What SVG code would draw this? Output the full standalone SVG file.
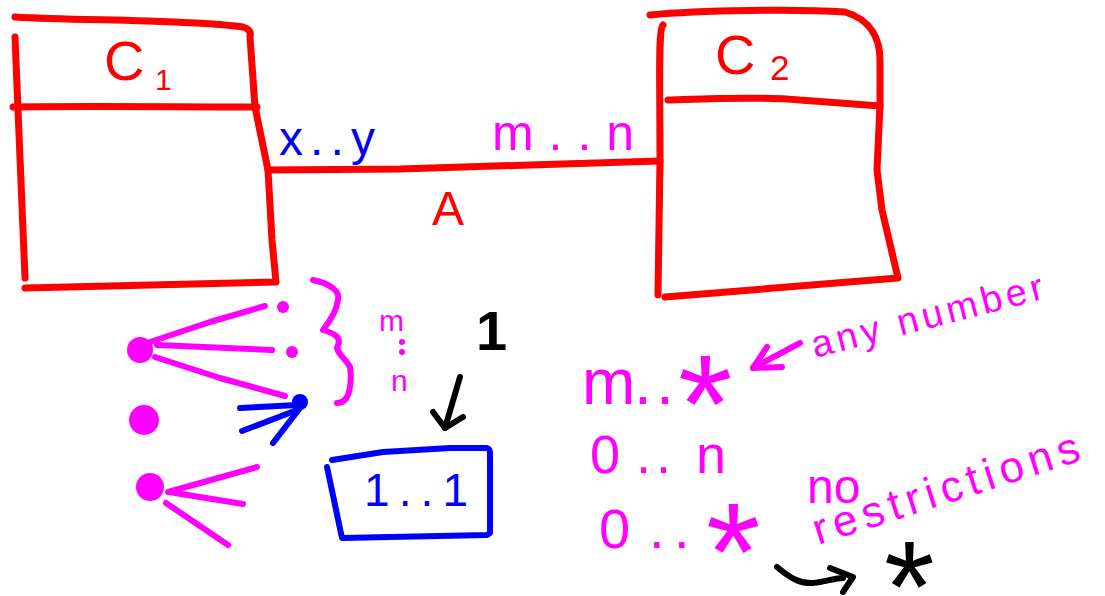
<svg xmlns="http://www.w3.org/2000/svg" width="1105" height="596" viewBox="0 0 1105 596">
<style>
.s{fill:none;stroke-linecap:round;stroke-linejoin:round}
.r{stroke:#ff0000;stroke-width:7}
.m{stroke:#ff00ff;stroke-width:6}
.b{stroke:#0000ff;stroke-width:6}
.k{stroke:#000000;stroke-width:6}
text{font-family:"Liberation Sans",Arial,sans-serif}
.tr{fill:#ff0000}
.tm{fill:#ff00ff}
.tb{fill:#0000ff}
.tk{fill:#000000}
</style>
<rect width="1105" height="596" fill="#ffffff"/>
<g id="C1">
<path class="s r" d="M15,17 C80,21 180,19 243,27 C250,29 251,33 250,37 L255,107 L268,170 L272,240 L276,282 L25,288"/>
<path class="s r" d="M15,37 L18,110 L25,278"/>
<path class="s r" d="M13,107 C80,106 180,107 257,107"/>
<text class="tr" x="104" y="80" font-size="56">C</text>
<text class="tr" x="155" y="90" font-size="30">1</text>
</g>
<g id="C2">
<path class="s r" d="M650,15 C700,10 800,9 845,12 C872,20 880,40 880,60 L880,105 L877,170 L882,210 L898,278 L665,297"/>
<path class="s r" d="M663,25 C658,30 660,80 660,160 L658,295"/>
<path class="s r" d="M668,100 C700,99 760,96 800,100 L880,106"/>
<text class="tr" x="715" y="74" font-size="56">C</text>
<text class="tr" x="770" y="80" font-size="35">2</text>
</g>
<g id="connectors">
<path class="s r" d="M268,170 L400,169 L530,165 L660,161"/>
<text class="tb" x="279" y="155" font-size="48" textLength="96" lengthAdjust="spacing">x..y</text>
<text class="tm" x="492" y="150" font-size="50" textLength="142" lengthAdjust="spacing">m..n</text>
<text class="tr" x="432" y="225" font-size="48">A</text>
</g>
<g id="fan">
<circle cx="140" cy="350" r="13" fill="#ff00ff"/>
<circle cx="144" cy="420" r="15" fill="#ff00ff"/>
<circle cx="150" cy="487" r="14" fill="#ff00ff"/>
<path class="s m" d="M150,342 L210,322 L265,306"/>
<path class="s m" d="M157,345 L272,350"/>
<path class="s m" d="M155,357 L220,378 L285,396"/>
<circle cx="283" cy="307" r="6" fill="#ff00ff"/>
<circle cx="292" cy="352" r="6" fill="#ff00ff"/>
<circle cx="300" cy="402" r="8" fill="#0000ff"/>
<path class="s b" d="M240,408 L297,405"/>
<path class="s b" d="M242,431 L297,410"/>
<path class="s b" d="M273,443 L300,408"/>
<path class="s m" d="M168,492 L257,467"/>
<path class="s m" d="M169,492 L243,504"/>
<path class="s m" d="M166,503 L228,545"/>
<path class="s m" d="M313,280 C332,284 340,292 338,300 C336,310 334,315 323,330 C333,333 342,337 338,345 C334,352 346,358 350,367 C352,378 350,390 348,395 C345,402 341,403 337,403"/>
<text class="tm" x="379" y="331" font-size="30">m</text>
<circle cx="402" cy="342" r="3" fill="#ff00ff"/>
<circle cx="402" cy="352" r="3" fill="#ff00ff"/>
<text class="tm" x="391" y="391" font-size="30">n</text>
</g>
<g id="one">
<text class="tk" x="476" y="350" font-size="56" font-weight="bold">1</text>
<path class="s k" d="M460,377 L445,428"/>
<path class="s k" d="M433,412 L445,428 L463,417"/>
</g>
<g id="box11">
<path class="s b" d="M332,460 L383,452 L450,448 L487,448 C490,449 490,451 490,453 L490,533 L487,535 L342,538 L327,467"/>
<text class="tb" x="364" y="506" font-size="46" textLength="104" lengthAdjust="spacing">1..1</text>
</g>
<g id="mults">
<text class="tm" x="582" y="404" font-size="64">m<tspan x="634">.</tspan><tspan x="656">.</tspan><tspan x="678" font-size="140" dy="48">*</tspan></text>
<text class="tm" x="590" y="473" font-size="54">0<tspan x="636">.</tspan><tspan x="656">.</tspan><tspan x="696">n</tspan></text>
<text class="tm" x="599" y="548" font-size="56">0<tspan x="649">.</tspan><tspan x="674">.</tspan><tspan x="706" font-size="140" dy="52">*</tspan></text>
</g>
<g id="notes">
<path class="s m" d="M753,368 L800,343"/>
<path class="s m" d="M767,347 L753,368 L782,367"/>
<text class="tm" font-size="38" transform="translate(815,358) rotate(-14.5)" textLength="238" lengthAdjust="spacing">any number</text>
<text class="tm" x="807" y="503" font-size="48">no</text>
<text class="tm" font-size="44" transform="translate(818,545) rotate(-17.8)" textLength="278" lengthAdjust="spacing">restrictions</text>
<path class="s k" d="M777,567 C790,578 800,584 813,583 C825,582 835,578 843,578"/>
<path class="s k" d="M830,568 L853,577 L843,592"/>
<text class="tk" x="884" y="632" font-size="130">*</text>
</g>
</svg>
